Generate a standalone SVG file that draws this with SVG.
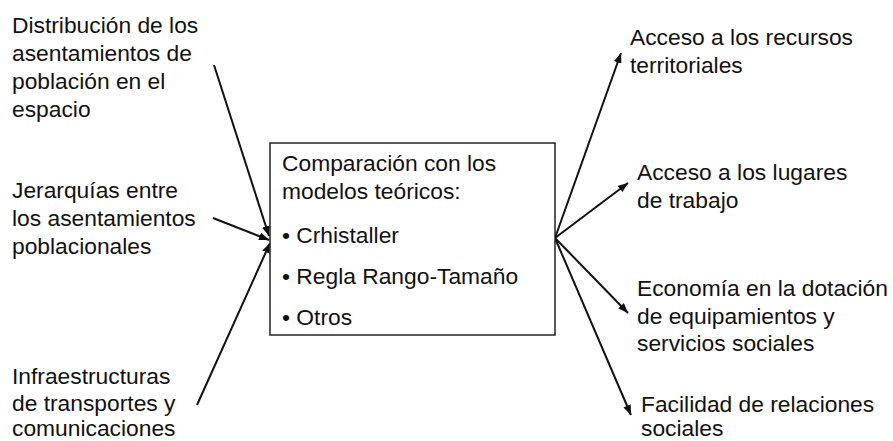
<svg xmlns="http://www.w3.org/2000/svg" width="893" height="441" viewBox="0 0 893 441">
<style>
text{font-family:"Liberation Sans",Arial,sans-serif;font-size:22.8px;fill:#111}
.ln{stroke:#111;stroke-width:2;fill:none}
.box{stroke:#222;stroke-width:1.5;fill:#fff}
</style>
<defs>
<marker id="ah" viewBox="0 0 10 8" refX="10" refY="4" markerWidth="10" markerHeight="8" markerUnits="userSpaceOnUse" orient="auto">
<path d="M0,0 L10,4 L0,8 z" fill="#111"/>
</marker>
</defs>
<g id="connectors">
<line class="ln" x1="214" y1="65" x2="269" y2="236" marker-end="url(#ah)"/>
<line class="ln" x1="213" y1="218" x2="269" y2="240" marker-end="url(#ah)"/>
<line class="ln" x1="197" y1="405" x2="270" y2="243" marker-end="url(#ah)"/>
<line class="ln" x1="555" y1="238" x2="621" y2="53" marker-end="url(#ah)"/>
<line class="ln" x1="555" y1="238" x2="628" y2="183" marker-end="url(#ah)"/>
<line class="ln" x1="555" y1="238" x2="628" y2="313" marker-end="url(#ah)"/>
<line class="ln" x1="555" y1="238" x2="631" y2="415" marker-end="url(#ah)"/>
</g>
<g id="center">
<rect class="box" x="270" y="143" width="285" height="192"/>
<text x="282" y="171">Comparación con los</text>
<text x="282" y="199">modelos teóricos:</text>
<text x="282" y="243">• Crhistaller</text>
<text x="282" y="284">• Regla Rango-Tamaño</text>
<text x="282" y="325">• Otros</text>
</g>
<g id="in1">
<text x="12" y="33">Distribución de los</text>
<text x="12" y="61">asentamientos de</text>
<text x="12" y="89">población en el</text>
<text x="12" y="117">espacio</text>
</g>
<g id="in2">
<text x="12" y="198">Jerarquías entre</text>
<text x="12" y="226">los asentamientos</text>
<text x="12" y="254">poblacionales</text>
</g>
<g id="in3">
<text x="12" y="384">Infraestructuras</text>
<text x="12" y="411">de transportes y</text>
<text x="12" y="436">comunicaciones</text>
</g>
<g id="out1">
<text x="630" y="45">Acceso a los recursos</text>
<text x="630" y="73">territoriales</text>
</g>
<g id="out2">
<text x="637" y="180">Acceso a los lugares</text>
<text x="637" y="208">de trabajo</text>
</g>
<g id="out3">
<text x="637" y="296">Economía en la dotación</text>
<text x="637" y="324">de equipamientos y</text>
<text x="637" y="351">servicios sociales</text>
</g>
<g id="out4">
<text x="641" y="412">Facilidad de relaciones</text>
<text x="641" y="436">sociales</text>
</g>
</svg>
